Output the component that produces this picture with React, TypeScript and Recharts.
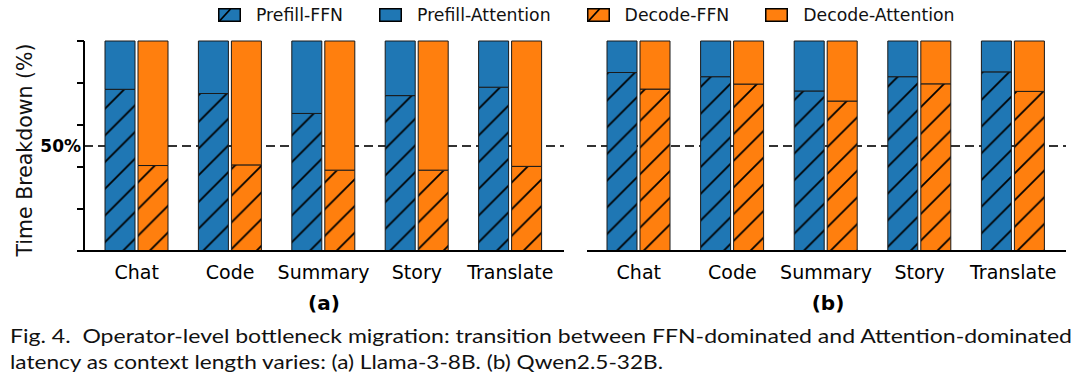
import React from 'react';
import { BarChart, Bar, XAxis, YAxis, CartesianGrid } from 'recharts';

const CATEGORIES = ['Chat', 'Code', 'Summary', 'Story', 'Translate'];

// (a) Llama-3-8B
const LLAMA_PREFILL_FFN = [77, 75, 65.5, 74, 78];
const LLAMA_PREFILL_ATTN = [23, 25, 34.5, 26, 22];
const LLAMA_DECODE_FFN = [40.7, 41, 38.5, 38.5, 40.3];
const LLAMA_DECODE_ATTN = [59.3, 59, 61.5, 61.5, 59.7];

// (b) Qwen2.5-32B
const QWEN_PREFILL_FFN = [85, 83, 76.2, 83, 85.3];
const QWEN_PREFILL_ATTN = [15, 17, 23.8, 17, 14.7];
const QWEN_DECODE_FFN = [77.1, 79.5, 71.4, 79.6, 76];
const QWEN_DECODE_ATTN = [22.9, 20.5, 28.6, 20.4, 24];

const Y_TICKS = [0, 20, 40, 50, 60, 80, 100];

const BLUE = '#1f77b4';
const ORANGE = '#ff7f0e';
const EDGE = '#1a1a1a';
const FONT = '"DejaVu Sans", sans-serif';

const LEGEND = [
  { label: 'Prefill-FFN', color: BLUE, hatch: true },
  { label: 'Prefill-Attention', color: BLUE, hatch: false },
  { label: 'Decode-FFN', color: ORANGE, hatch: true },
  { label: 'Decode-Attention', color: ORANGE, hatch: false },
];

const buildRows = (pf: number[], pa: number[], df: number[], da: number[]) =>
  CATEGORIES.map((name, i) => ({
    name,
    prefillFFN: pf[i],
    prefillAttn: pa[i],
    decodeFFN: df[i],
    decodeAttn: da[i],
  }));

const llamaData = buildRows(LLAMA_PREFILL_FFN, LLAMA_PREFILL_ATTN, LLAMA_DECODE_FFN, LLAMA_DECODE_ATTN);
const qwenData = buildRows(QWEN_PREFILL_FFN, QWEN_PREFILL_ATTN, QWEN_DECODE_FFN, QWEN_DECODE_ATTN);

const HatchDefs = ({ prefix }: { prefix: string }) => {
  const s = 26.7;
  return (
    <defs>
      {[['blue', BLUE], ['orange', ORANGE]].map(([k, c]) => (
        <pattern key={k} id={`${prefix}-${k}`} patternUnits="userSpaceOnUse" width={s} height={s}>
          <rect width={s} height={s} fill={c} />
          <path
            d={`M0,${s} L${s},0 M-3,3 L3,-3 M${s - 3},${s + 3} L${s + 3},${s - 3}`}
            stroke="#000"
            strokeWidth={1.8}
          />
        </pattern>
      ))}
    </defs>
  );
};

// tick marks drawn by hand so that 50 gets only its bold label
const YTick = (props: any) => {
  const { x, y, payload } = props;
  if (payload.value === 50) {
    return (
      <text x={x - 3} y={y} dy={6} textAnchor="end" fontWeight="bold" fontSize={17} fontFamily={FONT} fill="#000">
        50%
      </text>
    );
  }
  return <line x1={x - 7} x2={x} y1={y} y2={y} stroke="#000" strokeWidth={2} />;
};

const Panel = ({ data, prefix, showY, width, margin, padding }: any) => (
  <BarChart width={width} height={291} data={data} margin={margin} barGap={3} barSize={30}>
    <HatchDefs prefix={prefix} />
    <CartesianGrid
      horizontal
      vertical={false}
      horizontalValues={[50]}
      stroke="#333"
      strokeWidth={2}
      strokeDasharray="9 5"
    />
    <XAxis
      dataKey="name"
      axisLine={{ stroke: '#000', strokeWidth: 2 }}
      tickLine={false}
      tickSize={0}
      tickMargin={15}
      height={40}
      padding={padding}
      tick={{ fill: '#000', fontSize: 19, fontFamily: FONT }}
      interval={0}
    />
    <YAxis
      hide={!showY}
      width={84}
      domain={[0, 100]}
      ticks={Y_TICKS}
      interval={0}
      axisLine={{ stroke: '#000', strokeWidth: 2 }}
      tickLine={false}
      tickSize={0}
      tickMargin={0}
      tick={<YTick />}
    />
    <Bar dataKey="prefillFFN" stackId="p" fill={`url(#${prefix}-blue)`} stroke={EDGE} strokeWidth={1} isAnimationActive={false} />
    <Bar dataKey="prefillAttn" stackId="p" fill={BLUE} stroke={EDGE} strokeWidth={1} isAnimationActive={false} />
    <Bar dataKey="decodeFFN" stackId="d" fill={`url(#${prefix}-orange)`} stroke={EDGE} strokeWidth={1} isAnimationActive={false} />
    <Bar dataKey="decodeAttn" stackId="d" fill={ORANGE} stroke={EDGE} strokeWidth={1} isAnimationActive={false} />
  </BarChart>
);

export default function App() {
  return (
    <div style={{ position: 'absolute', left: 0, top: 0, width: 1080, height: 381, background: '#fff', fontFamily: FONT }}>
      {/* legend */}
      <div style={{ position: 'absolute', left: 218, top: 4, height: 22, display: 'flex', alignItems: 'center', gap: 36, fontSize: 17.3, color: '#111' }}>
        {LEGEND.map((item) => (
          <div key={item.label} style={{ display: 'flex', alignItems: 'center', gap: 15 }}>
            <svg width={23} height={14} style={{ display: 'block' }}>
              <rect x={0.75} y={0.75} width={21.5} height={12.5} fill={item.color} stroke="#000" strokeWidth={1.5} />
              {item.hatch && <path d="M1.5,13 L12.5,1" stroke="#000" strokeWidth={1.8} />}
            </svg>
            <span>{item.label}</span>
          </div>
        ))}
      </div>

      <div style={{ position: 'absolute', left: 0, top: 0 }}>
        <Panel data={llamaData} prefix="ha" showY width={580} margin={{ top: 41, right: 16, left: 0, bottom: 0 }} padding={{ left: 6, right: 7 }} />
      </div>
      <div style={{ position: 'absolute', left: 574, top: 0 }}>
        <Panel data={qwenData} prefix="hb" showY={false} width={500} margin={{ top: 41, right: 8, left: 13, bottom: 0 }} padding={{ left: 5, right: 6 }} />
      </div>

      <svg style={{ position: 'absolute', left: 0, top: 0 }} width={1080} height={381}>
        <text x={25} y={150} transform="rotate(-90 25 150)" textAnchor="middle" dominantBaseline="central" fontSize={20.5} fontFamily={FONT} fill="#111">
          Time Breakdown (%)
        </text>
        <text x={324} y={310} textAnchor="middle" fontSize={20} fontWeight="bold" fontFamily={FONT} fill="#000">(a)</text>
        <text x={828} y={310} textAnchor="middle" fontSize={20} fontWeight="bold" fontFamily={FONT} fill="#000">(b)</text>
        <text x={10} y={343} fontSize={20} fontFamily="Lato, sans-serif" fill="#111" style={{ whiteSpace: 'pre' }} textLength={1062} lengthAdjust="spacingAndGlyphs">
          Fig. 4.  Operator-level bottleneck migration: transition between FFN-dominated and Attention-dominated
        </text>
        <text x={10} y={369} fontSize={20} fontFamily="Lato, sans-serif" fill="#111" textLength={653} lengthAdjust="spacingAndGlyphs">
          latency as context length varies: (a) Llama-3-8B. (b) Qwen2.5-32B.
        </text>
      </svg>
    </div>
  );
}
